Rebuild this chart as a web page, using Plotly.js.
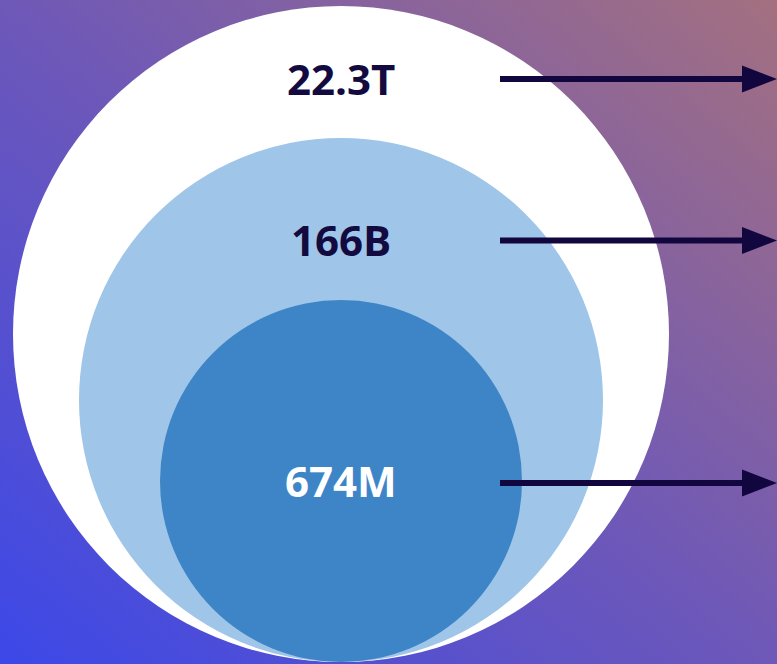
<!DOCTYPE html>
<html>
<head>
<meta charset="utf-8">
<script src="https://cdn.plot.ly/plotly-3.0.1.min.js"></script>
<style>
  html, body { margin: 0; padding: 0; width: 777px; height: 664px; overflow: hidden; }
  #chart { width: 777px; height: 664px;
    background: linear-gradient(to top right, #3c48e8 0%, #6e58b8 50%, #a47080 100%); }
</style>
</head>
<body>
<div id="chart"></div>
<script>
// ---- data ----
const labels = ['22.3T', '166B', '674M'];
const values = [22.3e12, 166e9, 674e6];

// ---- layout / style constants (pixel space of the 777x664 canvas) ----
const W = 777, H = 664;
const cx = 341;
const circleR = [328, 262, 181];      // nested circles share a bottom tangent
const bottomY = 662;
const circleColors = ['#ffffff', '#9fc5e8', '#3d85c6'];
const labelY = [78, 239, 480.5];
const labelColors = ['#130a40', '#130a40', '#ffffff'];
const arrowY = [79, 240.5, 483];
const arrowColor = '#12063f';
const arrowStart = 500, headLen = 35, headHalf = 13.5, shaftW = 6;

const shapes = [];
circleR.forEach((r, i) => {
  shapes.push({
    type: 'circle', xref: 'x', yref: 'y',
    x0: cx - r, x1: cx + r, y0: bottomY - 2 * r, y1: bottomY,
    fillcolor: circleColors[i], line: { width: 0 }, layer: 'below'
  });
});
arrowY.forEach(y => {
  shapes.push({
    type: 'line', xref: 'x', yref: 'y',
    x0: arrowStart, x1: W - headLen + 3, y0: y, y1: y,
    line: { color: arrowColor, width: shaftW }, layer: 'above'
  });
  shapes.push({
    type: 'path', xref: 'x', yref: 'y',
    path: `M ${W - headLen},${y - headHalf} L ${W},${y} L ${W - headLen},${y + headHalf} Z`,
    fillcolor: arrowColor, line: { width: 0 }, layer: 'above'
  });
});

const annotations = labels.map((t, i) => ({
  x: cx, y: labelY[i], xref: 'x', yref: 'y',
  text: '<b>' + t + '</b>', showarrow: false,
  xanchor: 'center', yanchor: 'middle',
  font: { family: 'Open Sans', size: 42, color: labelColors[i] }
}));

const trace = {
  x: [cx, cx, cx], y: labelY, customdata: values,
  type: 'scatter', mode: 'markers', marker: { opacity: 0 },
  hoverinfo: 'skip', showlegend: false
};

const layout = {
  width: W, height: H,
  margin: { l: 0, r: 0, t: 0, b: 0, pad: 0 },
  paper_bgcolor: 'rgba(0,0,0,0)', plot_bgcolor: 'rgba(0,0,0,0)',
  xaxis: { range: [0, W], visible: false, fixedrange: true },
  yaxis: { range: [H, 0], visible: false, fixedrange: true },
  shapes: shapes, annotations: annotations, showlegend: false
};

Plotly.newPlot('chart', [trace], layout, { staticPlot: true, displayModeBar: false });
</script>
</body>
</html>
